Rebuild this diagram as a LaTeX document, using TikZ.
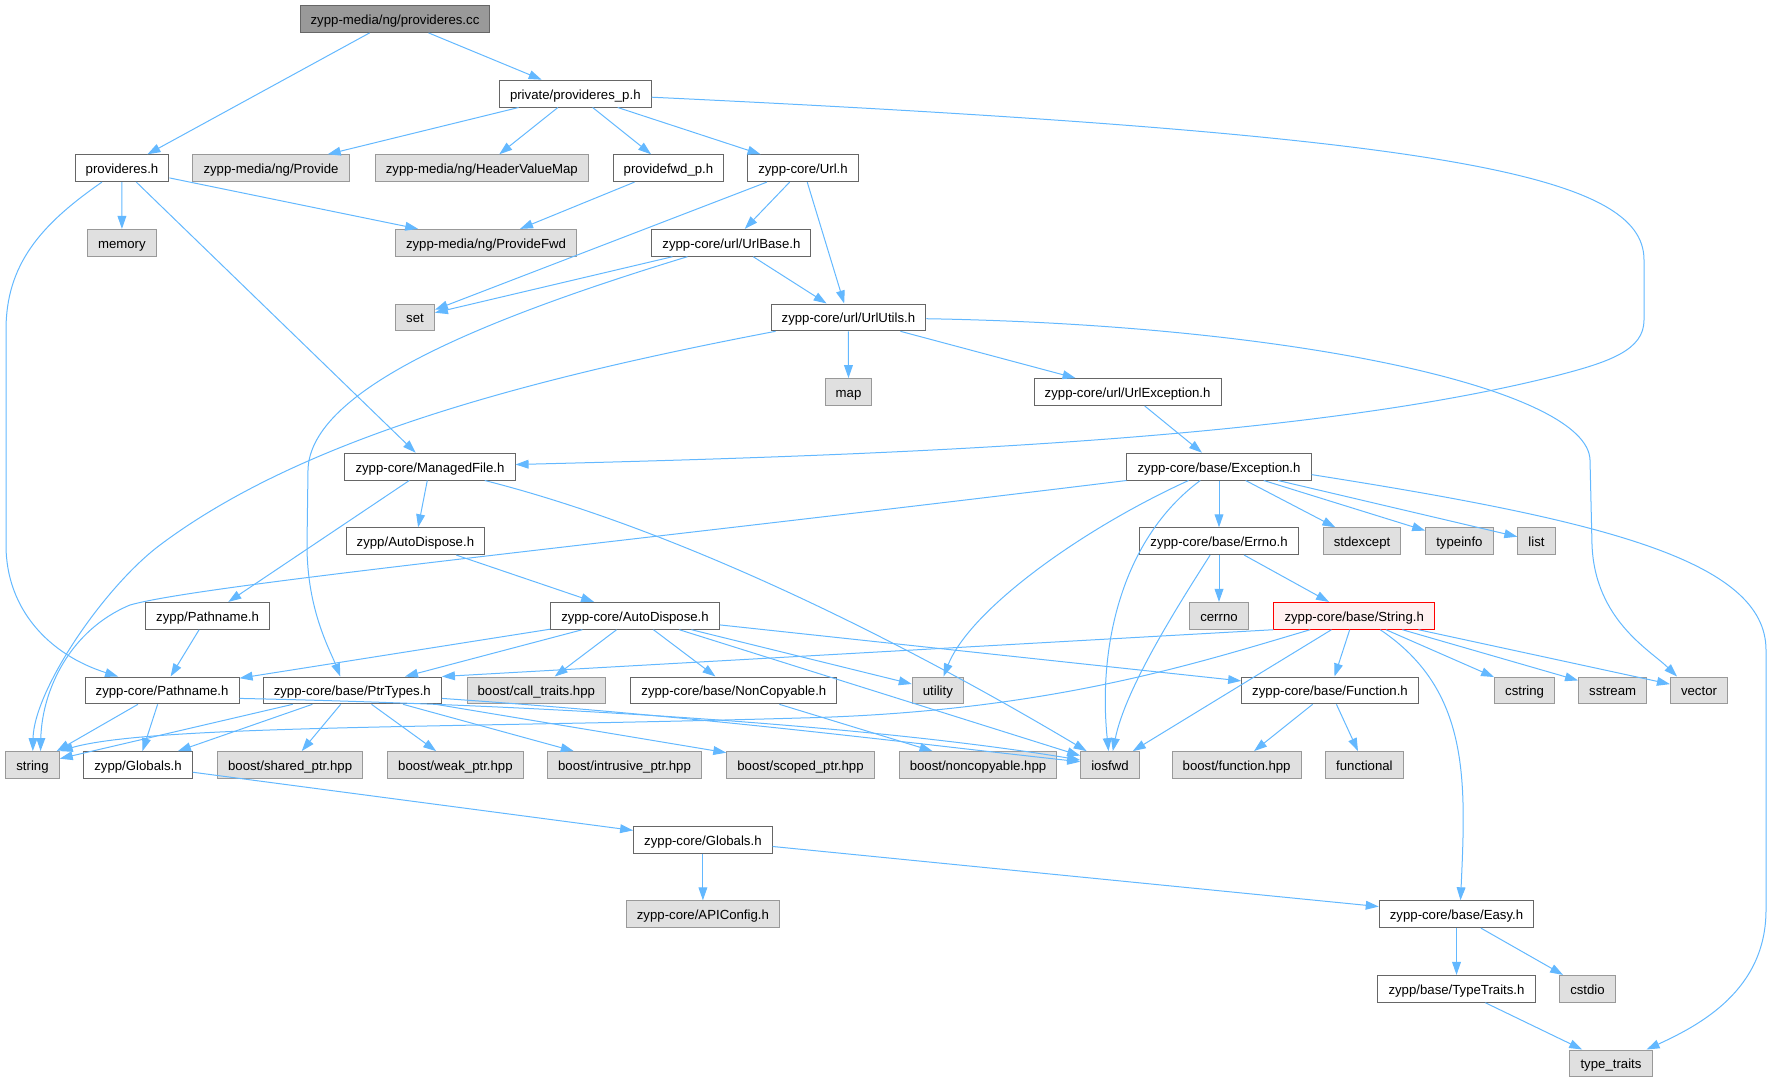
\documentclass[tikz,border=0pt]{standalone}
\usepackage{fontspec}
\setmainfont{Liberation Sans}
\usetikzlibrary{arrows.meta}

\definecolor{doxedge}{HTML}{63B8FF}
\definecolor{doxline}{HTML}{666666}
\definecolor{doxgrayline}{HTML}{999999}
\definecolor{doxgray}{HTML}{E0E0E0}
\definecolor{doxroot}{HTML}{999999}
\definecolor{doxred}{HTML}{FF0000}
\definecolor{doxpink}{HTML}{FFF0F0}

\begin{document}
\begin{tikzpicture}[x=0.5pt,y=-0.5pt,
  every node/.style={font=\fontsize{6.6}{8}\selectfont,inner xsep=5.3pt,inner ysep=0pt,
    minimum height=13.4pt,text height=6.6pt,text depth=1.2pt,line width=0.5pt},
  hdrbox/.style={draw=doxline,fill=white},
  sysbox/.style={draw=doxgrayline,fill=doxgray},
  rootbox/.style={draw=doxline,fill=doxroot},
  markbox/.style={draw=doxred,fill=doxpink},
  dep/.style={draw=doxedge,line width=0.5pt,-{Triangle[length=6.5pt,width=4.4pt]}}]
  \useasboundingbox (0,0) rectangle (1771,1083);

    \node[rootbox] (cc) at (395,19) {zypp-media/ng/provideres.cc};
    \node[hdrbox] (pp) at (575.3,93.6) {private/provideres\_p.h};

    \node[hdrbox] (ph) at (122,168.2) {provideres.h};
    \node[sysbox] (prov) at (271,168.2) {zypp-media/ng/Provide};
    \node[sysbox] (hvm) at (481.8,168.2) {zypp-media/ng/HeaderValueMap};
    \node[hdrbox] (pfp) at (668.5,168.2) {providefwd\_p.h};
    \node[hdrbox] (url) at (803,168.2) {zypp-core/Url.h};

    \node[sysbox] (mem) at (121.9,242.8) {memory};
    \node[sysbox] (pfwd) at (486,242.8) {zypp-media/ng/ProvideFwd};
    \node[hdrbox] (ubase) at (731.4,242.8) {zypp-core/url/UrlBase.h};

    \node[sysbox] (set) at (415,317.4) {set};
    \node[hdrbox] (uutil) at (848.4,317.4) {zypp-core/url/UrlUtils.h};
    \node[sysbox] (map) at (848.5,392) {map};
    \node[hdrbox] (uexc) at (1127.6,392) {zypp-core/url/UrlException.h};

    \node[hdrbox] (mfile) at (430,466.6) {zypp-core/ManagedFile.h};
    \node[hdrbox] (exc) at (1219,466.6) {zypp-core/base/Exception.h};

    \node[hdrbox] (zad) at (415.4,541.2) {zypp/AutoDispose.h};
    \node[hdrbox] (errno) at (1219,541.2) {zypp-core/base/Errno.h};
    \node[sysbox] (stdex) at (1362,541.2) {stdexcept};
    \node[sysbox] (tinfo) at (1459.4,541.2) {typeinfo};
    \node[sysbox] (list) at (1536.5,541.2) {list};

    \node[hdrbox] (zpath) at (207.6,615.8) {zypp/Pathname.h};
    \node[hdrbox] (cad) at (635,615.8) {zypp-core/AutoDispose.h};
    \node[sysbox] (cerrno) at (1219,615.8) {cerrno};
    \node[markbox] (str) at (1354.2,615.8) {zypp-core/base/String.h};

    \node[hdrbox] (cpath) at (162.1,690.4) {zypp-core/Pathname.h};
    \node[hdrbox] (ptr) at (352.3,690.4) {zypp-core/base/PtrTypes.h};
    \node[sysbox] (ctr) at (536.3,690.4) {boost/call\_traits.hpp};
    \node[hdrbox] (ncp) at (733.9,690.4) {zypp-core/base/NonCopyable.h};
    \node[sysbox] (util) at (937.9,690.4) {utility};
    \node[hdrbox] (func) at (1330,690.4) {zypp-core/base/Function.h};
    \node[sysbox] (cstr) at (1524.6,690.4) {cstring};
    \node[sysbox] (sstr) at (1612.6,690.4) {sstream};
    \node[sysbox] (vec) at (1699,690.4) {vector};

    \node[sysbox] (string) at (32.5,765) {string};
    \node[hdrbox] (zglob) at (138,765) {zypp/Globals.h};
    \node[sysbox] (shp) at (290.1,765) {boost/shared\_ptr.hpp};
    \node[sysbox] (wkp) at (455.4,765) {boost/weak\_ptr.hpp};
    \node[sysbox] (inp) at (624.5,765) {boost/intrusive\_ptr.hpp};
    \node[sysbox] (scp) at (800.5,765) {boost/scoped\_ptr.hpp};
    \node[sysbox] (bnc) at (978,765) {boost/noncopyable.hpp};
    \node[sysbox] (iosfwd) at (1110,765) {iosfwd};
    \node[sysbox] (bfn) at (1236.6,765) {boost/function.hpp};
    \node[sysbox] (fnl) at (1364.4,765) {functional};

    \node[hdrbox] (cglob) at (702.9,839.6) {zypp-core/Globals.h};
    \node[sysbox] (api) at (702.9,914.2) {zypp-core/APIConfig.h};
    \node[hdrbox] (easy) at (1456.5,914.2) {zypp-core/base/Easy.h};
    \node[hdrbox] (ttr) at (1456.5,988.8) {zypp/base/TypeTraits.h};
    \node[sysbox] (cstdio) at (1587.5,988.8) {cstdio};
    \node[sysbox] (tt) at (1611,1063.4) {type\_traits};

    %%%%%%%%%% top part %%%%%%%%%%
    \draw[dep] (cc) to (ph);
    \draw[dep] (cc) to (pp);

    \draw[dep] (pp) to (prov);
    \draw[dep] (pp) to (hvm);
    \draw[dep] (pp) to (pfp);
    \draw[dep] (pp) to (url);
    \draw[dep] (pp) .. controls (1450,135) and (1644,175) .. (1644,260) -- (1644,320)
        .. controls (1644,350) and (1610,362) .. (1555,376) .. controls (1300,440) and (900,455) .. (mfile);

    \draw[dep] (ph) to (mem);
    \draw[dep] (ph) to (pfwd);
    \draw[dep] (ph) to (mfile);
    \draw[dep] (ph) .. controls (40,225) and (6,265) .. (6,330) -- (6,545)
        .. controls (6,610) and (50,655) .. (cpath);
    \draw[dep] (pfp) to (pfwd);

    \draw[dep] (url) to (set);
    \draw[dep] (url) to (ubase);
    \draw[dep] (url) to (uutil);
    \draw[dep] (ubase) to (set);
    \draw[dep] (ubase) to (uutil);
    \draw[dep] ([xshift=-22pt]ubase.south) .. controls (480,320) and (310,390) .. (308,470) -- (307,545)
        .. controls (307,610) and (330,650) .. ([xshift=-6pt]ptr.north);

    \draw[dep] (uutil) .. controls (520,380) and (300,440) .. (160,545)
        .. controls (104,587) and (34,690) .. (string);
    \draw[dep] (uutil) to (map);
    \draw[dep] (uutil) to (uexc);
    \draw[dep] (uutil) .. controls (1300,325) and (1588,390) .. (1590,460) -- (1592,545)
        .. controls (1595,620) and (1650,650) .. ([xshift=-11pt]vec.north);
    \draw[dep] (uexc) to (exc);

    %%%%%%%%%% middle part %%%%%%%%%%
    \draw[dep] (mfile) to (zpath);
    \draw[dep] (mfile) to (zad);
    \draw[dep] (mfile) .. controls (680,530) and (900,640) .. (iosfwd);

    \draw[dep] (exc.south west) .. controls (600,545) and (200,585) .. (130,605)
        .. controls (70,630) and (42,690) .. ([xshift=4pt]string.north);
    \draw[dep] (exc) .. controls (1080,530) and (970,610) .. (util);
    \draw[dep] (exc) .. controls (1120,540) and (1098,650) .. (iosfwd);
    \draw[dep] (exc) to (errno);
    \draw[dep] (exc) to (stdex);
    \draw[dep] (exc) to (tinfo);
    \draw[dep] (exc) to (list);
    \draw[dep] ([yshift=-4pt]exc.east) .. controls (1600,520) and (1766,560) .. (1766,650) -- (1766,910)
        .. controls (1766,990) and (1700,1025) .. ([xshift=-3pt]tt.north east);

    \draw[dep] (zad) to (cad);
    \draw[dep] (zpath) to (cpath);

    \draw[dep] (errno) to (cerrno);
    \draw[dep] (errno) to (str);
    \draw[dep] (errno) .. controls (1175,610) and (1125,690) .. (iosfwd);

    \draw[dep] (cad) to (cpath);
    \draw[dep] (cad) to (ptr);
    \draw[dep] (cad) to (ctr);
    \draw[dep] (cad) to (ncp);
    \draw[dep] (cad) to (util);
    \draw[dep] (cad) to (func);
    \draw[dep] (cad) to (iosfwd);

    \draw[dep] (str.south west) to (ptr.north east);
    \draw[dep] ([xshift=-22pt]str.south) .. controls (1200,662) and (1050,712) .. (800,718)
        .. controls (450,728) and (150,725) .. (string.north east);
    \draw[dep] (str) to (iosfwd);
    \draw[dep] (str) to (func);
    \draw[dep] ([xshift=13pt]str.south) .. controls (1470,690) and (1466,780) .. ([xshift=2pt]easy.north);
    \draw[dep] (str) to (cstr);
    \draw[dep] (str) to (sstr);
    \draw[dep] (str) to (vec);

    %%%%%%%%%% bottom part %%%%%%%%%%
    \draw[dep] (cpath) to (string);
    \draw[dep] (cpath) to (zglob);
    \draw[dep] ([yshift=-4pt]cpath.east) .. controls (600,706) and (900,730) .. (iosfwd);

    \draw[dep] (ptr) to (string);
    \draw[dep] (ptr) to (zglob);
    \draw[dep] (ptr) to (shp);
    \draw[dep] (ptr) to (wkp);
    \draw[dep] (ptr) to (inp);
    \draw[dep] (ptr) to (scp);
    \draw[dep] ([yshift=-4pt]ptr.east) .. controls (700,716) and (900,742) .. (iosfwd);

    \draw[dep] (ncp) to (bnc);
    \draw[dep] (func) to (bfn);
    \draw[dep] (func) to (fnl);

    \draw[dep] (zglob) to (cglob);
    \draw[dep] (cglob) to (api);
    \draw[dep] (cglob) to (easy);
    \draw[dep] (easy) to (ttr);
    \draw[dep] (easy) to (cstdio);
    \draw[dep] (ttr) to (tt);
  \end{tikzpicture}
\end{document}
